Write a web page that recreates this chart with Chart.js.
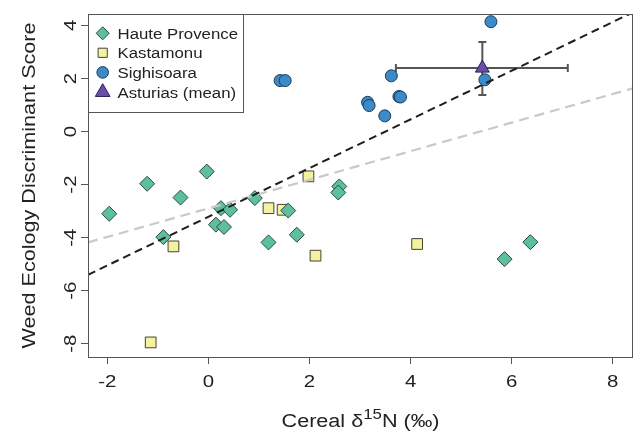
<!DOCTYPE html>
<html>
<head>
<meta charset="utf-8">
<script src="https://cdn.jsdelivr.net/npm/chart.js@4.4.1/dist/chart.umd.min.js"></script>
<style>
html,body{margin:0;padding:0;background:#fff;}
canvas{display:block;}
</style>
</head>
<body>
<canvas id="c" width="636" height="433"></canvas>
<script>
// ---- data ----
const hauteX = [-1.96,-1.21,-0.55,-0.03,-0.89,0.25,0.43,0.15,0.31,0.92,1.19,1.58,1.75,2.59,2.57,5.86,6.37];
const hauteY = [-3.10,-1.97,-2.49,-1.51,-3.98,-2.89,-2.95,-3.51,-3.60,-2.51,-4.18,-2.98,-3.89,-2.07,-2.30,-4.81,-4.17];
const kastX = [1.98,1.19,1.47,-0.69,2.12,-1.14,4.13];
const kastY = [-1.69,-2.89,-2.95,-4.33,-4.68,-7.95,-4.24];
const sighX = [1.42,1.52,5.59,3.62,3.15,3.18,3.77,3.80,3.49,5.47];
const sighY = [1.92,1.92,4.14,2.10,1.10,0.98,1.32,1.30,0.59,1.95];
const asturX = [5.42];
const asturY = [2.39];
const asturXErr = [3.71, 7.11];
const asturYErr = [1.38, 3.37];
const fitAllX = [-2.38, 8.33];
const fitAllY = [-5.40, 4.43];
const fitGrayX = [-2.38, 8.40];
const fitGrayY = [-4.18, 1.63];
const xTicks = [-2, 0, 2, 4, 6, 8];
const yTicks = [-8, -6, -4, -2, 0, 2, 4];
const legendLabels = ['Haute Provence', 'Kastamonu', 'Sighisoara', 'Asturias (mean)'];
const xTitleParts = ['Cereal \u03B4', '15', 'N (\u2030)'];
const yTitle = 'Weed Ecology Discriminant Score';

const zip = (xs, ys) => xs.map((x, i) => ({x: x, y: ys[i]}));

const SX = 1.2; // horizontal stretch of glyphs as in the reference
const FONT = '"Liberation Sans", Arial, sans-serif';
const TXT = '#222';

function txt(ctx, s, x, y, size, align, rot) {
  ctx.save();
  ctx.translate(x, y);
  if (rot) ctx.rotate(rot);
  ctx.scale(SX, 1);
  ctx.font = size + 'px ' + FONT;
  ctx.fillStyle = TXT;
  ctx.textAlign = align;
  ctx.textBaseline = 'alphabetic';
  ctx.fillText(s, 0, 0);
  ctx.restore();
}
function tw(ctx, s, size) {
  ctx.save();
  ctx.font = size + 'px ' + FONT;
  const w = ctx.measureText(s).width * SX;
  ctx.restore();
  return w;
}

const styles = {
  haute: {fill: '#5dbf9c', stroke: '#2c4a40'},
  kast: {fill: '#f2f2a0', stroke: '#444433'},
  sigh: {fill: '#3b8bc9', stroke: '#1d3a58'},
  astur: {fill: '#6a4fa8', stroke: '#2a2050'}
};

function marker(ctx, kind, x, y, r) {
  ctx.beginPath();
  if (kind === 'diamond') {
    ctx.moveTo(x, y - r); ctx.lineTo(x + r, y); ctx.lineTo(x, y + r); ctx.lineTo(x - r, y); ctx.closePath();
  } else if (kind === 'square') {
    ctx.rect(x - r, y - r, 2 * r, 2 * r);
  } else if (kind === 'circle') {
    ctx.arc(x, y, r, 0, Math.PI * 2);
  } else {
    const h = r * 1.5, w = r * Math.sqrt(3);
    ctx.moveTo(x, y - r); ctx.lineTo(x + w / 2, y + h - r); ctx.lineTo(x - w / 2, y + h - r); ctx.closePath();
  }
  ctx.fill();
  ctx.stroke();
}

const decor = {
  id: 'decor',
  beforeDatasetsDraw(chart) {
    const ctx = chart.ctx, xs = chart.scales.x, ys = chart.scales.y;
    const cx = xs.getPixelForValue(asturX[0]);
    const cy = ys.getPixelForValue(asturY[0]);
    const x0 = xs.getPixelForValue(asturXErr[0]), x1 = xs.getPixelForValue(asturXErr[1]);
    const y0 = ys.getPixelForValue(asturYErr[0]), y1 = ys.getPixelForValue(asturYErr[1]);
    const cap = 4;
    ctx.save();
    ctx.strokeStyle = '#555';
    ctx.lineWidth = 2;
    ctx.beginPath();
    ctx.moveTo(x0, cy); ctx.lineTo(x1, cy);
    ctx.moveTo(x0, cy - cap); ctx.lineTo(x0, cy + cap);
    ctx.moveTo(x1, cy - cap); ctx.lineTo(x1, cy + cap);
    ctx.moveTo(cx, y0); ctx.lineTo(cx, y1);
    ctx.moveTo(cx - cap, y0); ctx.lineTo(cx + cap, y0);
    ctx.moveTo(cx - cap, y1); ctx.lineTo(cx + cap, y1);
    ctx.stroke();
    ctx.restore();
  },
  afterDraw(chart) {
    const ctx = chart.ctx, a = chart.chartArea, xs = chart.scales.x, ys = chart.scales.y;
    ctx.save();
    // frame
    ctx.strokeStyle = '#555';
    ctx.lineWidth = 1;
    ctx.strokeRect(Math.round(a.left) + 0.5, Math.round(a.top) + 0.5, Math.round(a.right - a.left) - 1, Math.round(a.bottom - a.top));
    // x tick labels
    xs.ticks.forEach(t => {
      txt(ctx, String(t.value), xs.getPixelForValue(t.value), 387, 17, 'center', 0);
    });
    // y tick labels (rotated)
    ys.ticks.forEach(t => {
      txt(ctx, String(t.value), 75.5, ys.getPixelForValue(t.value), 17, 'center', -Math.PI / 2);
    });
    // x title with superscript
    const w1 = tw(ctx, xTitleParts[0], 18), w2 = tw(ctx, xTitleParts[1], 14), w3 = tw(ctx, xTitleParts[2], 18);
    let sx = (a.left + a.right) / 2 - (w1 + w2 + w3) / 2;
    txt(ctx, xTitleParts[0], sx, 426.5, 18, 'left', 0); sx += w1;
    txt(ctx, xTitleParts[1], sx, 419, 14, 'left', 0); sx += w2;
    txt(ctx, xTitleParts[2], sx, 426.5, 18, 'left', 0);
    // y title
    txt(ctx, yTitle, 35, (a.top + a.bottom) / 2, 18, 'center', -Math.PI / 2);
    // legend
    const lx = Math.round(a.left) + 0.5, ly = Math.round(a.top) + 0.5;
    ctx.fillStyle = '#fff';
    ctx.fillRect(lx, ly, 155, 98);
    ctx.strokeStyle = '#555';
    ctx.lineWidth = 1;
    ctx.strokeRect(lx, ly, 155, 98);
    const kinds = [['diamond', styles.haute, 6.5], ['square', styles.kast, 4.6], ['circle', styles.sigh, 5.8], ['tri', styles.astur, 8.5]];
    const rows = [33.3, 52.8, 72.4, 92.2];
    kinds.forEach((k, i) => {
      ctx.fillStyle = k[1].fill;
      ctx.strokeStyle = k[1].stroke;
      ctx.lineWidth = 1;
      marker(ctx, k[0], 102.7, rows[i], k[2]);
      txt(ctx, legendLabels[i], 117.5, rows[i] + 5.5, 14, 'left', 0);
    });
    ctx.restore();
  }
};

const pt = (label, xs, ys, style, pstyle, r) => ({
  type: 'scatter', label: label, data: zip(xs, ys),
  pointStyle: pstyle, pointRadius: r, pointHoverRadius: r,
  backgroundColor: style.fill, borderColor: style.stroke, borderWidth: 1, order: 2
});

new Chart(document.getElementById('c'), {
  type: 'scatter',
  data: {
    datasets: [
      {type: 'line', label: 'fit', data: zip(fitAllX, fitAllY), borderColor: '#1e1e1e', borderWidth: 2, borderDash: [8, 5], pointRadius: 0, fill: false, order: 0},
      {type: 'line', label: 'fit2', data: zip(fitGrayX, fitGrayY), borderColor: '#c9c9c9', borderWidth: 2.2, borderDash: [10, 6], pointRadius: 0, fill: false, order: 1},
      pt(legendLabels[2], sighX, sighY, styles.sigh, 'circle', 6),
      pt(legendLabels[0], hauteX, hauteY, styles.haute, 'rectRot', 7.5),
      pt(legendLabels[1], kastX, kastY, styles.kast, 'rect', 7.6),
      pt(legendLabels[3], asturX, asturY, styles.astur, 'triangle', 8)
    ]
  },
  options: {
    responsive: false,
    animation: false,
    devicePixelRatio: 1,
    layout: {autoPadding: false, padding: {top: 14, right: 3, left: 0, bottom: 0}},
    plugins: {legend: {display: false}, tooltip: {enabled: false}},
    scales: {
      x: {
        type: 'linear', position: 'bottom', min: -2.38, max: 8.40,
        afterBuildTicks: s => { s.ticks = xTicks.map(v => ({value: v})); },
        afterFit: s => { s.height = 76; },
        ticks: {display: false},
        border: {display: false},
        grid: {display: true, drawOnChartArea: false, drawTicks: true, tickLength: 7, tickColor: '#555', tickWidth: 1}
      },
      y: {
        type: 'linear', position: 'left', min: -8.50, max: 4.43,
        afterBuildTicks: s => { s.ticks = yTicks.map(v => ({value: v})); },
        afterFit: s => { s.width = 88; },
        ticks: {display: false},
        border: {display: false},
        grid: {display: true, drawOnChartArea: false, drawTicks: true, tickLength: 7, tickColor: '#555', tickWidth: 1}
      }
    }
  },
  plugins: [decor]
});
</script>
</body>
</html>
